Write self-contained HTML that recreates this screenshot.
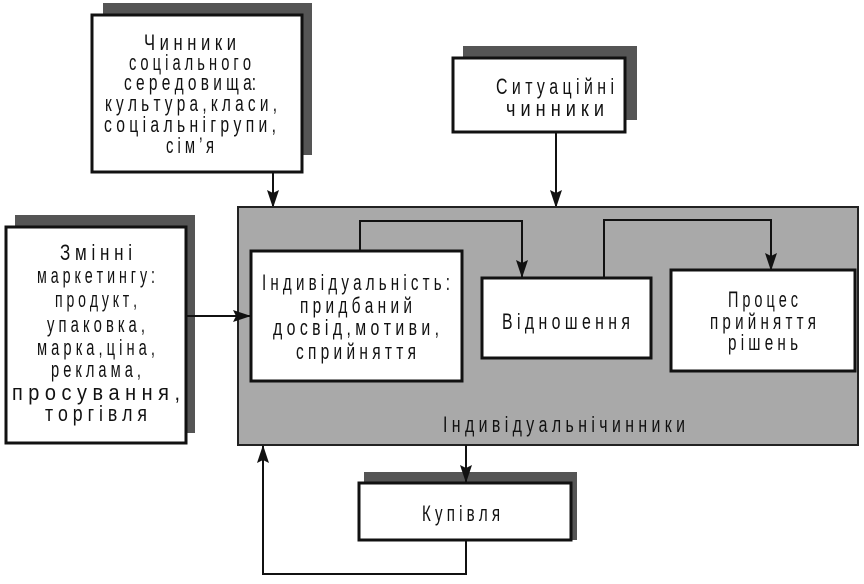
<!DOCTYPE html>
<html><head><meta charset="utf-8"><style>
html,body{margin:0;padding:0;background:#fff;}
svg text{font-family:"Liberation Sans Narrow","Liberation Sans",sans-serif;font-size:22px;fill:#111;}
</style></head><body>
<svg width="864" height="579" viewBox="0 0 864 579" xmlns="http://www.w3.org/2000/svg">
<defs>
<marker id="a" markerWidth="18" markerHeight="12" refX="17" refY="6" orient="auto" markerUnits="userSpaceOnUse">
<path d="M0,0 L18,6 L0,12 L3,6 Z" fill="#111"/></marker>
</defs>
<!-- social box -->
<rect x="103" y="3" width="209" height="152" fill="#555"/>
<rect x="92" y="15" width="210" height="157" fill="#fff" stroke="#111" stroke-width="3"/>
<g text-anchor="middle">
<text x="190" y="50" textLength="92" lengthAdjust="spacingAndGlyphs">Ч и н н и к и</text>
<text x="190" y="70" textLength="122" lengthAdjust="spacingAndGlyphs">с о ц і а л ь н о г о</text>
<text x="190" y="90" textLength="132" lengthAdjust="spacingAndGlyphs">с е р е д о в и щ а:</text>
<text x="191" y="111" textLength="172" lengthAdjust="spacingAndGlyphs">к у л ь т у р а , к л а с и ,</text>
<text x="190" y="132" textLength="172" lengthAdjust="spacingAndGlyphs">с о ц і а л ь н і г р у п и ,</text>
<text x="190" y="153" textLength="48" lengthAdjust="spacingAndGlyphs">с і м ’ я</text>
</g>
<!-- situational -->
<rect x="463" y="46" width="174" height="74" fill="#555"/>
<rect x="453" y="58" width="172" height="74" fill="#fff" stroke="#111" stroke-width="3"/>
<text x="555" y="94" text-anchor="middle" textLength="118" lengthAdjust="spacingAndGlyphs">С и т у а ц і й н і</text>
<text x="555" y="116" text-anchor="middle" textLength="98" lengthAdjust="spacingAndGlyphs">ч и н н и к и</text>
<!-- arrows to big box -->
<line x1="273" y1="172" x2="273" y2="207" stroke="#111" stroke-width="2" marker-end="url(#a)"/>
<line x1="556" y1="132" x2="556" y2="207" stroke="#111" stroke-width="2" marker-end="url(#a)"/>
<!-- big box -->
<rect x="238" y="207" width="620" height="238" fill="#a9a9a9" stroke="#222" stroke-width="2"/>
<!-- left box -->
<rect x="15" y="215" width="180" height="218" fill="#555"/>
<rect x="6" y="227" width="180" height="216" fill="#fff" stroke="#111" stroke-width="3"/>
<g text-anchor="middle">
<text x="96" y="260" textLength="72" lengthAdjust="spacingAndGlyphs">З м і н н і</text>
<text x="96" y="283" textLength="118" lengthAdjust="spacingAndGlyphs">м а р к е т и н г у :</text>
<text x="96" y="307" textLength="82" lengthAdjust="spacingAndGlyphs">п р о д у к т ,</text>
<text x="96" y="332" textLength="98" lengthAdjust="spacingAndGlyphs">у п а к о в к а ,</text>
<text x="96" y="355" textLength="118" lengthAdjust="spacingAndGlyphs">м а р к а , ц і н а ,</text>
<text x="96" y="377" textLength="90" lengthAdjust="spacingAndGlyphs">р е к л а м а ,</text>
<text x="96" y="400" textLength="168" lengthAdjust="spacingAndGlyphs">п р о с у в а н н я ,</text>
<text x="96" y="421" textLength="102" lengthAdjust="spacingAndGlyphs">т о р г і в л я</text>
</g>
<line x1="186" y1="316" x2="250" y2="316" stroke="#111" stroke-width="2" marker-end="url(#a)"/>
<!-- connectors inside -->
<polyline points="360,251 360,221 522,221 522,277" fill="none" stroke="#111" stroke-width="2" marker-end="url(#a)"/>
<polyline points="604,277 604,220 771,220 771,270" fill="none" stroke="#111" stroke-width="2" marker-end="url(#a)"/>
<!-- individuality -->
<rect x="251" y="251" width="211" height="130" fill="#fff" stroke="#111" stroke-width="3"/>
<g text-anchor="middle">
<text x="356" y="290" textLength="188" lengthAdjust="spacingAndGlyphs">І н д и в і д у а л ь н і с т ь :</text>
<text x="356" y="313" textLength="112" lengthAdjust="spacingAndGlyphs">п р и д б а н и й</text>
<text x="356" y="335" textLength="166" lengthAdjust="spacingAndGlyphs">д о с в і д , м о т и в и ,</text>
<text x="356" y="359" textLength="120" lengthAdjust="spacingAndGlyphs">с п р и й н я т т я</text>
</g>
<rect x="482" y="278" width="169" height="80" fill="#fff" stroke="#111" stroke-width="3"/>
<text x="566" y="329" text-anchor="middle" textLength="128" lengthAdjust="spacingAndGlyphs">В і д н о ш е н н я</text>
<rect x="671" y="270" width="184" height="101" fill="#fff" stroke="#111" stroke-width="3"/>
<g text-anchor="middle">
<text x="763" y="307" textLength="70" lengthAdjust="spacingAndGlyphs">П р о ц е с</text>
<text x="763" y="329" textLength="106" lengthAdjust="spacingAndGlyphs">п р и й н я т т я</text>
<text x="763" y="350" textLength="70" lengthAdjust="spacingAndGlyphs">р і ш е н ь</text>
</g>
<text x="564" y="432" text-anchor="middle" textLength="242" lengthAdjust="spacingAndGlyphs">І н д и в і д у а л ь н і ч и н н и к и</text>
<!-- purchase -->
<rect x="364" y="472" width="213" height="68" fill="#555"/>
<rect x="359" y="483" width="212" height="57" fill="#fff" stroke="#111" stroke-width="3"/>
<line x1="466" y1="445" x2="466" y2="482" stroke="#111" stroke-width="2" marker-end="url(#a)"/>
<text x="461" y="521" text-anchor="middle" textLength="78" lengthAdjust="spacingAndGlyphs">К у п і в л я</text>
<polyline points="466,540 466,574 263,574 263,446" fill="none" stroke="#111" stroke-width="2" marker-end="url(#a)"/>
</svg>
</body></html>
